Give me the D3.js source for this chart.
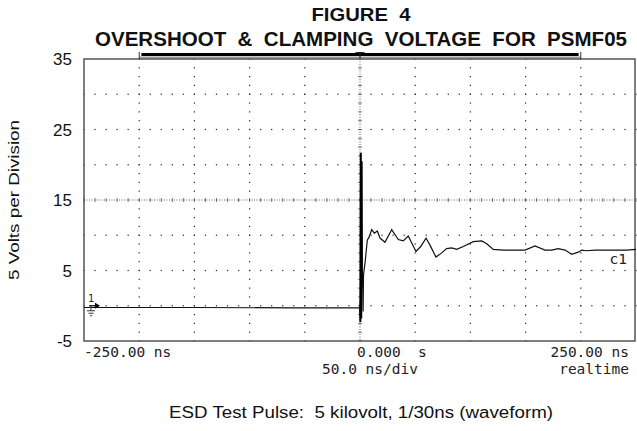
<!DOCTYPE html>
<html>
<head>
<script src="https://d3js.org/d3.v7.min.js"></script>
<style>
  body { margin: 0; background: white; }
  text { white-space: pre; }
  .title { font-family: "Liberation Sans", Arial, sans-serif; font-weight: bold; fill: #111; }
  .lbl { font-family: "Liberation Sans", Arial, sans-serif; fill: #111; }
  .mono { font-family: "DejaVu Sans Mono", monospace; fill: #222; font-size: 14.5px; }
</style>
</head>
<body>
<script>
// time in ns, voltage in V
var traceTime = [-250, -150, -60, 0, 1.8, 2.4, 2.8, 3.2, 4.5, 6.6, 8.4, 10.6, 13.0, 15.7, 18.1, 22.6, 28.7, 34.7,
  39.2, 43.7, 50.7, 55.0, 59.8, 63.4, 68.8, 74.0, 78.5, 83.1, 87.6, 93.6, 102.6, 110.2, 114.8, 120.7,
  129.8, 149.5, 158.5, 167.6, 173.6, 179.6, 185.7, 191.8, 197.7, 200.8, 205.3, 212.9, 241.6, 250]
var traceVolts = [-0.25, -0.25, -0.3, -0.3, 3.8, 4.1, -0.8, 4.4, 6.0, 9.3, 9.8, 10.8, 10.3, 10.6, 9.6, 9.0, 10.8, 9.4,
  9.2, 9.9, 7.7, 8.4, 9.6, 8.6, 6.9, 7.5, 8.1, 8.2, 8.0, 8.4, 9.1, 9.2, 8.8, 8.0,
  7.9, 7.9, 8.5, 7.9, 7.9, 8.1, 7.9, 7.3, 7.6, 7.9, 7.8, 7.9, 7.9, 8.0]
var spikeTime = [0.0, 0.3, 0.7, 1.1, 1.5, 1.8]
var spikeVolts = [-0.3, -2.3, 21.7, -1.8, 20.5, 3.8]

var yTicks = [35, 25, 15, 5, -5]
var xLabels = ["-250.00 ns", "0.000  s", "250.00 ns"]

var width = 637, height = 431

var svg = d3.select("body").append("svg")
  .attr("width", width)
  .attr("height", height)

var x = d3.scaleLinear().domain([-250, 250]).range([84, 636])
var y = d3.scaleLinear().domain([-5, 35]).range([341, 59])

// titles
svg.append("text").attr("class", "title")
  .attr("x", 361).attr("y", 21)
  .attr("text-anchor", "middle")
  .style("font-size", "18.5px")
  .attr("textLength", 99).attr("lengthAdjust", "spacingAndGlyphs")
  .text("FIGURE  4")
svg.append("text").attr("class", "title")
  .attr("x", 361).attr("y", 46)
  .attr("text-anchor", "middle")
  .style("font-size", "19.5px")
  .attr("textLength", 532).attr("lengthAdjust", "spacingAndGlyphs")
  .text("OVERSHOOT  &  CLAMPING  VOLTAGE  FOR  PSMF05")

// memory bar above screen
svg.append("line").attr("x1", x(-200)).attr("x2", x(200)).attr("y1", 57.5).attr("y2", 57.5)
  .attr("stroke", "#999").attr("stroke-width", 2)
svg.append("line").attr("x1", x(-198)).attr("x2", x(198)).attr("y1", 54.5).attr("y2", 54.5)
  .attr("stroke", "#000").attr("stroke-width", 3)
;[-200, 200].forEach(function(t) {
  svg.append("line").attr("x1", x(t)).attr("x2", x(t)).attr("y1", 52).attr("y2", 59)
    .attr("stroke", "#333").attr("stroke-width", 1)
})
// trigger marker
svg.append("path")
  .attr("d", "M" + (x(0) - 4.5) + ",52.5 H" + (x(0) + 4.5) + " M" + x(0) + ",52.5 V59")
  .attr("stroke", "#222").attr("stroke-width", 1.2).attr("fill", "none")

// grid dots
var g = svg.append("g")
var xDiv = d3.range(-250, 251, 50), yDiv = d3.range(-5, 36, 5)
xDiv.forEach(function(t) {
  if (t === -250 || t === 250 || t === 0) return
  d3.range(-5, 35.01, 1.25).forEach(function(v) {
    g.append("rect").attr("x", x(t) - 0.6).attr("y", y(v) - 0.6).attr("width", 1.2).attr("height", 1.2).attr("fill", "#222")
  })
})
yDiv.forEach(function(v) {
  if (v === -5 || v === 35 || v === 15) return
  d3.range(-250, 250.01, 10).forEach(function(t) {
    g.append("rect").attr("x", x(t) - 0.6).attr("y", y(v) - 0.6).attr("width", 1.2).attr("height", 1.2).attr("fill", "#222")
  })
})
// centre axes
g.append("line").attr("x1", x(-250)).attr("x2", x(250)).attr("y1", y(15)).attr("y2", y(15))
  .attr("stroke", "#666").attr("stroke-width", 1).attr("stroke-dasharray", "1,1.5")
g.append("line").attr("x1", x(0)).attr("x2", x(0)).attr("y1", y(35)).attr("y2", y(-5))
  .attr("stroke", "#666").attr("stroke-width", 1).attr("stroke-dasharray", "1,1.5")
d3.range(-250, 250.01, 10).forEach(function(t) {
  g.append("line").attr("x1", x(t)).attr("x2", x(t)).attr("y1", y(15) - 2).attr("y2", y(15) + 2)
    .attr("stroke", "#555").attr("stroke-width", 0.8)
})
d3.range(-5, 35.01, 1.25).forEach(function(v) {
  g.append("line").attr("x1", x(0) - 2).attr("x2", x(0) + 2).attr("y1", y(v)).attr("y2", y(v))
    .attr("stroke", "#555").attr("stroke-width", 0.8)
})

// frame
svg.append("rect").attr("x", x(-250)).attr("y", y(35))
  .attr("width", x(250) - x(-250) - 1).attr("height", y(-5) - y(35))
  .attr("fill", "none").attr("stroke", "#555").attr("stroke-width", 1.5)

// y tick labels
svg.selectAll("text.ytick").data(yTicks).enter().append("text")
  .attr("class", "lbl ytick")
  .attr("x", 72).attr("y", function(d) { return y(d) + 6 })
  .attr("text-anchor", "end")
  .style("font-size", "17px")
  .text(function(d) { return d })

svg.append("text").attr("class", "lbl")
  .attr("transform", "translate(19,200) rotate(-90)")
  .attr("text-anchor", "middle")
  .style("font-size", "15.5px")
  .attr("textLength", 160).attr("lengthAdjust", "spacingAndGlyphs")
  .text("5 Volts per Division")

// waveform
var line = d3.line().x(function(d) { return x(d[0]) }).y(function(d) { return y(d[1]) })
svg.append("path")
  .datum(d3.zip(traceTime, traceVolts))
  .attr("d", line)
  .attr("fill", "none").attr("stroke", "#111").attr("stroke-width", 1.2)
svg.append("path")
  .datum(d3.zip(spikeTime, spikeVolts))
  .attr("d", line)
  .attr("fill", "none").attr("stroke", "#000").attr("stroke-width", 2)

// channel marker
svg.append("text").attr("class", "mono").attr("x", 88).attr("y", 302)
  .style("font-size", "10px").text("1")
svg.append("path").attr("d", "M" + (x(-250) + 5) + "," + y(0) + " H" + (x(-250) + 12))
  .attr("stroke", "#000").attr("stroke-width", 1.2)
svg.append("path").attr("d", "M" + (x(-250) + 11) + "," + (y(0) - 3) + " L" + (x(-250) + 16) + "," + y(0) + " L" + (x(-250) + 11) + "," + (y(0) + 3) + "Z")
  .attr("fill", "#000")
svg.append("path")
  .attr("d", "M91," + (y(0)) + " V" + (y(0) + 5) + " M87," + (y(0) + 5) + " H95 M88.5," + (y(0) + 7.5) + " H93.5 M90," + (y(0) + 10) + " H92")
  .attr("stroke", "#333").attr("stroke-width", 1).attr("fill", "none")
svg.append("text").attr("class", "mono").attr("x", 627).attr("y", 264)
  .attr("text-anchor", "end").text("c1")

// time labels
svg.append("text").attr("class", "mono").attr("x", 84).attr("y", 357).text(xLabels[0])
svg.append("text").attr("class", "mono").attr("x", 357).attr("y", 357).text(xLabels[1])
svg.append("text").attr("class", "mono").attr("x", 629).attr("y", 357).attr("text-anchor", "end").text(xLabels[2])
svg.append("text").attr("class", "mono").attr("x", 418).attr("y", 374).attr("text-anchor", "end").text("50.0 ns/div")
svg.append("text").attr("class", "mono").attr("x", 629).attr("y", 374).attr("text-anchor", "end").text("realtime")

// caption
svg.append("text").attr("class", "lbl")
  .attr("x", 361).attr("y", 418)
  .attr("text-anchor", "middle")
  .style("font-size", "16px")
  .attr("textLength", 384).attr("lengthAdjust", "spacingAndGlyphs")
  .text("ESD Test Pulse:  5 kilovolt, 1/30ns (waveform)")
</script>
</body>
</html>
